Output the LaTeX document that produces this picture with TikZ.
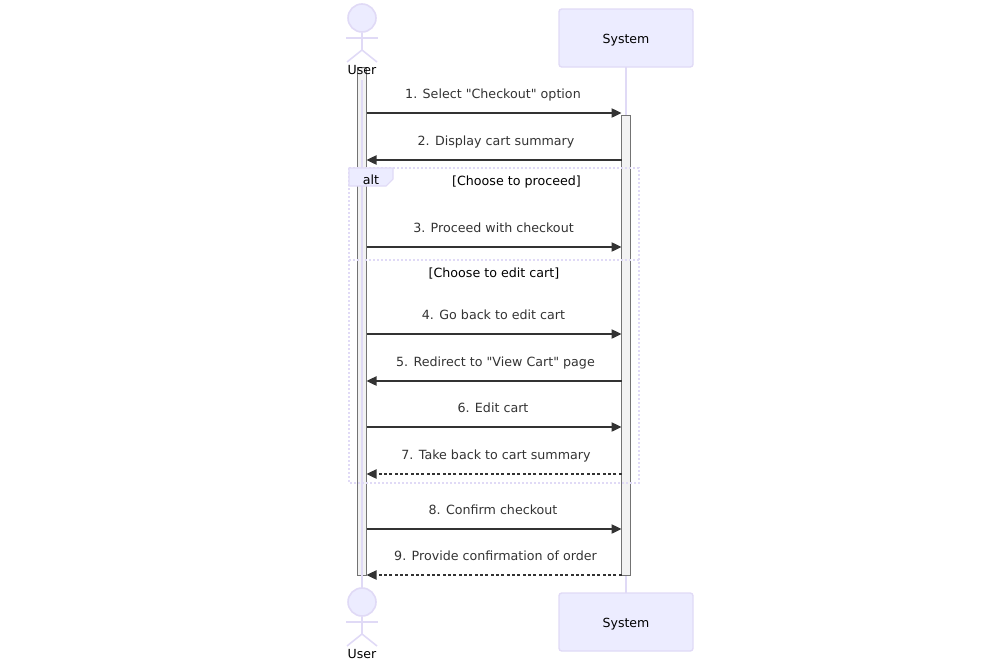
\documentclass[tikz,border=0pt]{standalone}
\usepackage{fontspec}
\setmainfont{DejaVu Sans}[Ligatures=TeXOff]
\usepackage{tikz}
\usetikzlibrary{positioning, arrows.meta}
\definecolor{boxfill}{HTML}{ECECFF}
\definecolor{boxline}{HTML}{E0DAF6}
\definecolor{msgtext}{HTML}{333333}
\tikzset{
    actorbox/.style={draw=boxline, fill=boxfill, line width=1pt, rounded corners=2pt, minimum width=100.5pt, minimum height=43.5pt, inner sep=0pt},
    actorline/.style={draw=boxline, line width=1.2pt},
    actorhead/.style={circle, draw=boxline, fill=boxfill, line width=1.2pt, minimum size=21pt, inner sep=0pt},
    actorname/.style={anchor=base, inner sep=0pt, font=\fontsize{9.4pt}{11pt}\selectfont},
    lifeline/.style={draw=boxline, line width=1.2pt},
    activebar/.style={draw=black!55, fill=black!5, line width=0.75pt},
    msg/.style={anchor=base, inner sep=0pt, text=msgtext, font=\fontsize{9.5pt}{11pt}\selectfont},
    guard/.style={anchor=base, inner sep=0pt, text=black, font=\fontsize{9.5pt}{11pt}\selectfont},
    call/.style={draw=msgtext, line width=0.95pt, -{Triangle[length=7.5pt, width=7pt]}},
    reply/.style={call, line width=0.9pt, dash pattern=on 2.2pt off 1.8pt},
    framebox/.style={draw=boxline, line width=1.5pt, dash pattern=on 1.5pt off 1.5pt},
}
\begin{document}
\begin{tikzpicture}[x=0.75pt, y=-0.75pt]
    \useasboundingbox (0, 0) rectangle (988, 661);

    \coordinate (sysT) at (626, 67);
    \coordinate (sysA) at (626, 115);
    \coordinate (sysZ) at (626, 575);
    \coordinate (sysB) at (626, 593);
    \draw [lifeline] (sysT) -- (sysA);
    \draw [lifeline] (sysZ) -- (sysB);

    \draw [activebar] (357.5, 67) rectangle (366.5, 575);
    \draw [activebar] (621.5, 115) rectangle (630.5, 575);

    \coordinate (usrT) at (362, 80);
    \coordinate (usrB) at (362, 588);
    \draw [lifeline] (usrT) -- (usrB);

    \node [actorbox] (sysTop) at (626, 38) {};
    \node [actorbox] (sysBot) at (626, 622) {};
    \node [actorname] (sysTopName) at (626, 43.3) {System};
    \node [actorname] (sysBotName) at (626, 627.3) {System};

    \node [actorhead] (headT) at (362, 18) {};
    \coordinate (armLT) at (346, 38);
    \coordinate (armRT) at (378, 38);
    \coordinate (hipT) at (362, 50);
    \coordinate (legLT) at (347, 62);
    \coordinate (legRT) at (377, 62);
    \draw [actorline] (armLT) -- (armRT);
    \draw [actorline] (headT) -- (hipT);
    \draw [actorline] (legLT) -- (hipT) -- (legRT);
    \node [actorname] (userT) at (362, 74) {User};

    \node [actorhead] (headB) at (362, 602) {};
    \coordinate (armLB) at (346, 622);
    \coordinate (armRB) at (378, 622);
    \coordinate (hipB) at (362, 634);
    \coordinate (legLB) at (347, 646);
    \coordinate (legRB) at (377, 646);
    \draw [actorline] (armLB) -- (armRB);
    \draw [actorline] (headB) -- (hipB);
    \draw [actorline] (legLB) -- (hipB) -- (legRB);
    \node [actorname] (userB) at (362, 658) {User};

    \coordinate (frameTL) at (349, 168);
    \coordinate (frameTR) at (639, 168);
    \coordinate (frameBR) at (639, 483);
    \coordinate (frameBL) at (349, 483);
    \coordinate (splitL) at (349, 260);
    \coordinate (splitR) at (639, 260);
    \draw [framebox] (frameTL) -- (frameTR) -- (frameBR) -- (frameBL) -- cycle;
    \draw [framebox] (splitL) -- (splitR);
    \draw [draw=boxline, fill=boxfill, line width=0.8pt] (frameTL) -- (393, 168) -- (393, 179) -- (386, 186) -- (349, 186) -- cycle;
    \node [guard] (alt) at (371, 184) {alt};
    \node [guard] (proceed) at (516.5, 185) {[Choose to proceed]};
    \node [guard] (editcart) at (494, 277) {[Choose to edit cart]};

    \node [msg] (m1) at (493, 98) {1. Select "Checkout" option};
    \node [msg] (m2) at (496, 145) {2. Display cart summary};
    \node [msg] (m3) at (493.5, 232) {3. Proceed with checkout};
    \node [msg] (m4) at (493.5, 319.5) {4. Go back to edit cart};
    \node [msg] (m5) at (495.5, 366) {5. Redirect to "View Cart" page};
    \node [msg] (m6) at (493, 412) {6. Edit cart};
    \node [msg] (m7) at (496, 459) {7. Take back to cart summary};
    \node [msg] (m8) at (493, 514) {8. Confirm checkout};
    \node [msg] (m9) at (495.5, 560) {9. Provide confirmation of order};

    \coordinate (u1) at (366.5, 113);
    \coordinate (s1) at (621.5, 113);
    \coordinate (u2) at (366.5, 160);
    \coordinate (s2) at (621.5, 160);
    \coordinate (u3) at (366.5, 247);
    \coordinate (s3) at (621.5, 247);
    \coordinate (u4) at (366.5, 334);
    \coordinate (s4) at (621.5, 334);
    \coordinate (u5) at (366.5, 381);
    \coordinate (s5) at (621.5, 381);
    \coordinate (u6) at (366.5, 427);
    \coordinate (s6) at (621.5, 427);
    \coordinate (u7) at (366.5, 474);
    \coordinate (s7) at (621.5, 474);
    \coordinate (u8) at (366.5, 529);
    \coordinate (s8) at (621.5, 529);
    \coordinate (u9) at (366.5, 575);
    \coordinate (s9) at (621.5, 575);

    \draw [call] (u1) -- (s1);
    \draw [call] (s2) -- (u2);
    \draw [call] (u3) -- (s3);
    \draw [call] (u4) -- (s4);
    \draw [call] (s5) -- (u5);
    \draw [call] (u6) -- (s6);
    \draw [reply] (s7) -- (u7);
    \draw [call] (u8) -- (s8);
    \draw [reply] (s9) -- (u9);
\end{tikzpicture}
\end{document}
